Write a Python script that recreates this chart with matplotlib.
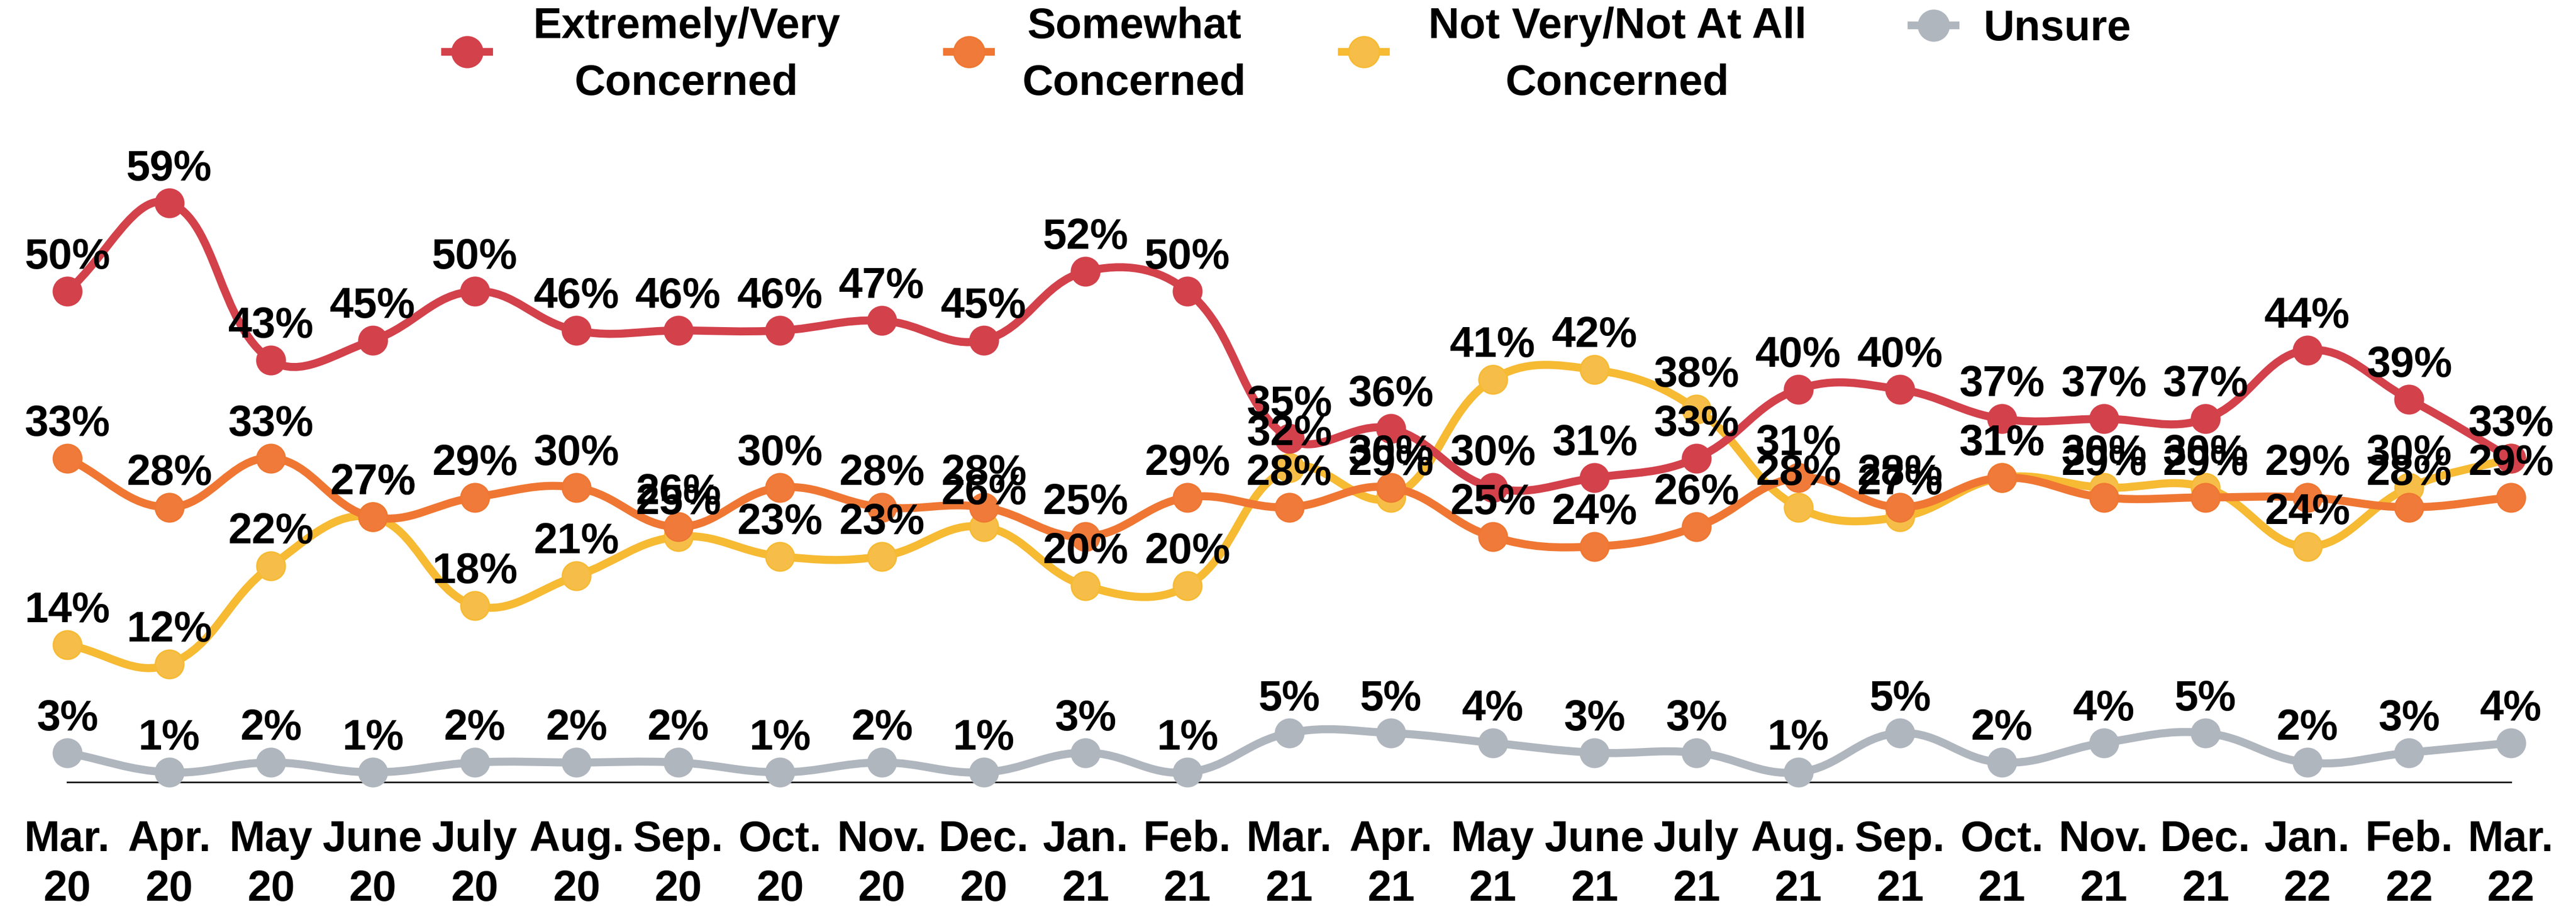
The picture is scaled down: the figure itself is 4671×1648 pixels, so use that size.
import numpy as np
import matplotlib
matplotlib.use('Agg')
import matplotlib.pyplot as plt
from matplotlib.path import Path
from matplotlib.patches import PathPatch
from matplotlib.lines import Line2D

plt.rcParams['font.family'] = ['Liberation Sans Narrow', 'Liberation Sans', 'DejaVu Sans']
plt.rcParams['font.weight'] = 'bold'

# data
months = ['Mar.\n20', 'Apr.\n20', 'May\n20', 'June\n20', 'July\n20', 'Aug.\n20', 'Sep.\n20',
          'Oct.\n20', 'Nov.\n20', 'Dec.\n20', 'Jan.\n21', 'Feb.\n21', 'Mar.\n21', 'Apr.\n21',
          'May\n21', 'June\n21', 'July\n21', 'Aug.\n21', 'Sep.\n21', 'Oct.\n21', 'Nov.\n21',
          'Dec.\n21', 'Jan.\n22', 'Feb.\n22', 'Mar.\n22']
very_concerned = [50, 59, 43, 45, 50, 46, 46, 46, 47, 45, 52, 50, 35, 36, 30, 31, 33, 40, 40, 37, 37, 37, 44, 39, 33]
somewhat = [33, 28, 33, 27, 29, 30, 26, 30, 28, 28, 25, 29, 28, 30, 25, 24, 26, 31, 28, 31, 29, 29, 29, 28, 29]
not_concerned = [14, 12, 22, 27, 18, 21, 25, 23, 23, 26, 20, 20, 32, 29, 41, 42, 38, 28, 27, 31, 30, 30, 24, 30, 33]
unsure = [3, 1, 2, 1, 2, 2, 2, 1, 2, 1, 3, 1, 5, 5, 4, 3, 3, 1, 5, 2, 4, 5, 2, 3, 4]

names = ['Extremely/Very\nConcerned', 'Somewhat\nConcerned', 'Not Very/Not At All\nConcerned', 'Unsure']
colors = ['#D3414B', '#EF7733', '#F6BA33', '#B0B6BE']
faces = ['#D3414B', '#EF7A3A', '#F6BE48', '#B0B6BE']

W, H = 4671, 1649
fig = plt.figure(figsize=(W / 100, H / 100), dpi=100)
ax = fig.add_axes([122 / W, 230 / H, (4553 - 122) / W, (1419 - 351) / H])
ax.set_xlim(0, 24)
ax.set_ylim(0, 60)

sx = (4553 - 122) / 24.0
sy = (1419 - 351) / 60.0


def smooth_path(vals, t=0.4):
    # chart.js style spline through the points (computed in pixel space)
    x = np.arange(len(vals)) * sx
    y = np.array(vals, dtype=float) * sy
    n = len(x)
    verts = [(x[0] / sx, y[0] / sy)]
    codes = [Path.MOVETO]
    cps = []
    for i in range(n):
        p0 = (x[max(i - 1, 0)], y[max(i - 1, 0)])
        p1 = (x[i], y[i])
        p2 = (x[min(i + 1, n - 1)], y[min(i + 1, n - 1)])
        d01 = np.hypot(p1[0] - p0[0], p1[1] - p0[1])
        d12 = np.hypot(p2[0] - p1[0], p2[1] - p1[1])
        s01 = d01 / (d01 + d12) if d01 + d12 else 0
        s12 = d12 / (d01 + d12) if d01 + d12 else 0
        fa, fb = t * s01, t * s12
        prev = (p1[0] - fa * (p2[0] - p0[0]), p1[1] - fa * (p2[1] - p0[1]))
        nxt = (p1[0] + fb * (p2[0] - p0[0]), p1[1] + fb * (p2[1] - p0[1]))
        cps.append((prev, nxt))
    for i in range(1, n):
        c1 = cps[i - 1][1]
        c2 = cps[i][0]
        verts += [(c1[0] / sx, c1[1] / sy), (c2[0] / sx, c2[1] / sy), (x[i] / sx, y[i] / sy)]
        codes += [Path.CURVE4] * 3
    return Path(verts, codes)


series = [very_concerned, somewhat, not_concerned, unsure]
xs = np.arange(len(months))
# draw from last to first so the first series sits on top
for k in [3, 2, 1, 0]:
    vals = series[k]
    z = 10 - k
    ax.add_patch(PathPatch(smooth_path(vals), fill=False, edgecolor=colors[k], lw=10.5,
                           capstyle='round', joinstyle='round', zorder=z, clip_on=False))
    ax.plot(xs, vals, 'o', ms=37, mfc=faces[k], mec=colors[k], mew=2, zorder=z + 0.5, clip_on=False)

for k in [3, 2, 1, 0]:
    for i, v in enumerate(series[k]):
        ax.annotate(f'{v}%', (i, v), xytext=(0, 45), textcoords='offset points',
                    ha='center', va='center', fontsize=56, fontweight='bold', color='black',
                    zorder=20, annotation_clip=False)

for s in ['top', 'right', 'left']:
    ax.spines[s].set_visible(False)
ax.spines['bottom'].set_linewidth(2.2)
ax.spines['bottom'].set_color('#222222')
ax.spines['bottom'].set_zorder(1)
ax.set_yticks([])
ax.set_xticks(xs)
ax.set_xticklabels(months, fontsize=56, fontweight='bold', linespacing=1.3)
ax.tick_params(axis='x', length=0, pad=48)

# legend drawn by hand at the top
leg_x = [847, 1757, 2473, 3506]
leg_y = [95, 95, 95, 47]
txt_x = [1245, 2057, 2933, 3730]
txt_y = [100, 100, 100, 52]
for k in range(4):
    cx, cy = leg_x[k] / W, 1 - leg_y[k] / H
    fig.add_artist(Line2D([cx - 40 / W, cx + 40 / W], [cy, cy], color=colors[k], lw=10,
                          transform=fig.transFigure))
    fig.add_artist(Line2D([cx], [cy], marker='o', ms=40, mfc=faces[k], mec=colors[k], mew=2,
                          color=colors[k], transform=fig.transFigure))
    fig.text(txt_x[k] / W, 1 - txt_y[k] / H, names[k], ha='center', va='center', fontsize=56,
             fontweight='bold', linespacing=1.52)

fig.savefig('out.png', dpi=100)
